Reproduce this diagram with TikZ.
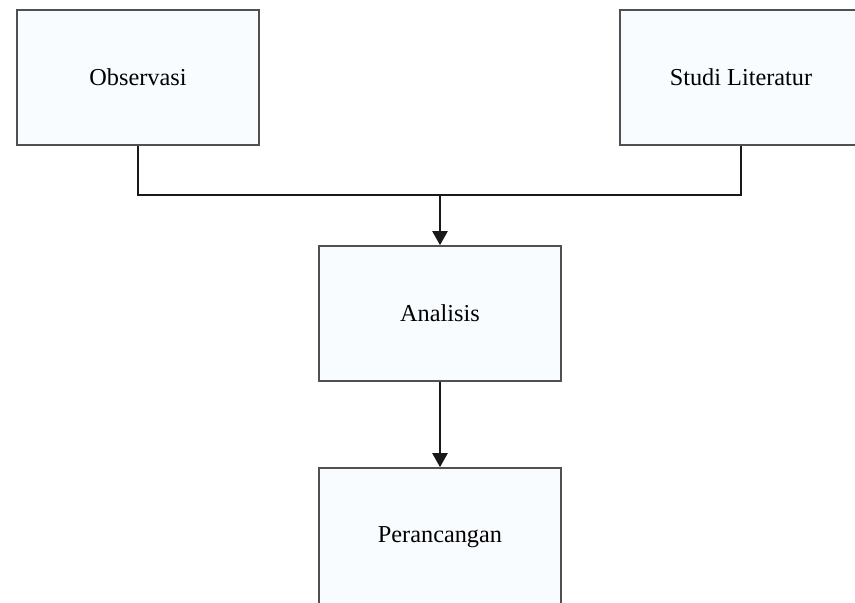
\documentclass[tikz,border=0pt]{standalone}
\usepackage{fontspec}
\setmainfont{Liberation Serif}
\usetikzlibrary{arrows.meta}
\definecolor{boxfill}{RGB}{249,252,254}
\definecolor{boxline}{RGB}{80,80,80}
\tikzset{
  stepbox/.style={draw=boxline, line width=1.6pt, fill=boxfill, minimum width=242pt, minimum height=135pt, inner sep=0pt, font=\fontsize{24.3}{28}\selectfont},
  conn/.style={draw=black!90, line width=2.2pt},
  arr/.style={conn, -{Triangle[length=14pt,width=15pt]}}
}
\begin{document}
\begin{tikzpicture}[x=1pt,y=1pt]
\useasboundingbox (0,0) rectangle (855,603);
\clip (0,0) rectangle (855,603);
\fill[white] (0,0) rectangle (855,603);
\node[stepbox] (obs) at (138,525.5) {Observasi};
\node[stepbox] (lit) at (741,525.5) {Studi Literatur};
\node[stepbox] (ana) at (440,289.5) {Analisis};
\node[stepbox, minimum height=139pt] (per) at (440,65.5) {Perancangan};
\coordinate (j) at (440,408);
\draw[conn] (obs.south) |- (j) -| (lit.south);
\draw[arr] (j) -- (ana.north);
\draw[arr] (ana.south) -- (per.north);
\end{tikzpicture}
\end{document}
